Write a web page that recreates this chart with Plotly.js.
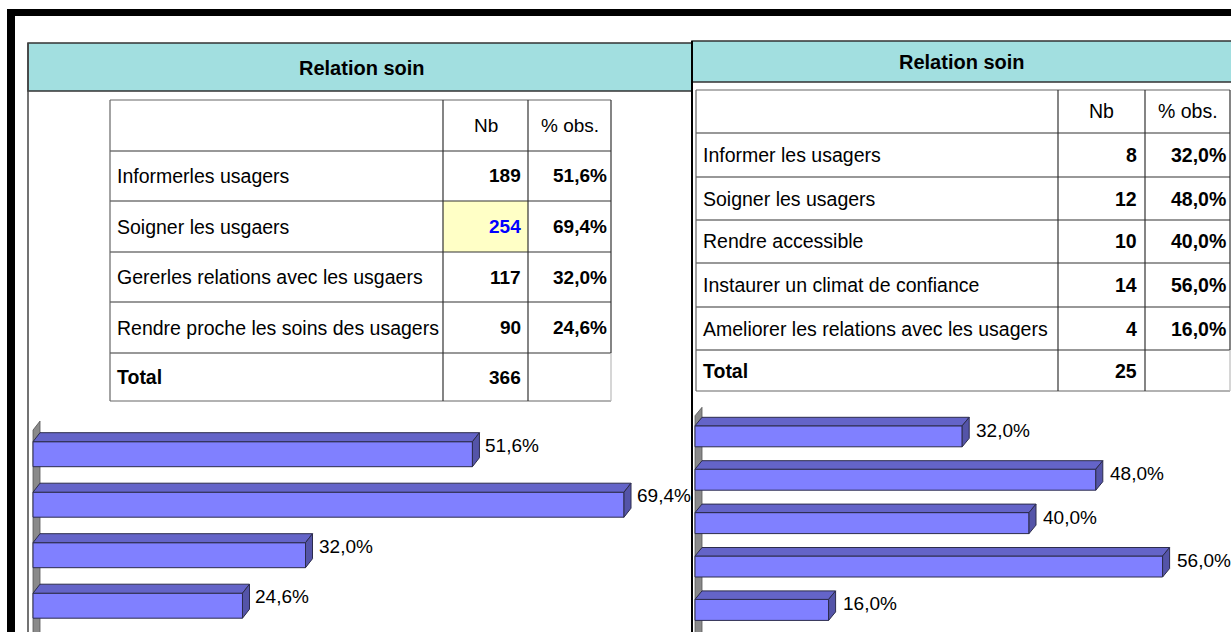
<!DOCTYPE html>
<html>
<head>
<meta charset="utf-8">
<script src="https://cdn.plot.ly/plotly-3.0.1.min.js"></script>
<style>html,body{margin:0;padding:0;background:#fff;}#chart{width:1231px;height:632px;}</style>
</head>
<body>
<div id="chart"></div>
<script>
// ---------- DATA ----------
const title = "Relation soin";
const colHeaders = ["Nb", "% obs."];
const totalLabel = "Total";

const leftCats = ["Informerles usagers", "Soigner les usgaers", "Gererles relations avec les usgaers", "Rendre proche les soins des usagers"];
const leftNb = [189, 254, 117, 90];
const leftPct = [51.6, 69.4, 32.0, 24.6];
const leftTotal = 366;

const rightCats = ["Informer les usagers", "Soigner les usagers", "Rendre accessible", "Instaurer un climat de confiance", "Ameliorer les relations avec les usagers"];
const rightNb = [8, 12, 10, 14, 4];
const rightPct = [32.0, 48.0, 40.0, 56.0, 16.0];
const rightTotal = 25;

// ---------- HELPERS ----------
const W = 1231, H = 632;
const P = x => x / W;
const Q = y => 1 - y / H;
const fmt = v => v.toFixed(1).replace('.', ',') + '%';

const ARIAL = "Liberation Sans, Arial, sans-serif";

const TEAL = "#A2DFE0";
const FRONT = "#8080FF", TOP = "#6464C8", SIDE = "#5454A8", EDGE = "#2c2c4c", WALL = "#8a8a8a";

const shapes = [];
const annotations = [];

function rect(x0, y0, x1, y1, fill, lc, lw) {
  shapes.push({type: 'rect', xref: 'paper', yref: 'paper', x0: P(x0), x1: P(x1), y0: Q(y1), y1: Q(y0),
    fillcolor: fill, line: {color: lc || 'rgba(0,0,0,0)', width: lw || 0}, layer: 'below'});
}
function line(x0, y0, x1, y1, c, w) {
  shapes.push({type: 'line', xref: 'paper', yref: 'paper', x0: P(x0), x1: P(x1), y0: Q(y0), y1: Q(y1),
    line: {color: c, width: w}, layer: 'above'});
}
function txt(x, y, t, anchor, size, bold, color) {
  annotations.push({xref: 'paper', yref: 'paper', x: P(x), y: Q(y), text: bold ? '<b>' + t + '</b>' : t,
    showarrow: false, xanchor: anchor, yanchor: 'middle',
    font: {family: ARIAL, size: size, color: color || '#000'}});
}

// ---------- FRAME ----------
rect(7, 9, W + 2, 16, '#000');
rect(7, 9, 15, H + 2, '#000');

// left panel
line(28, 43, 28, H + 2, '#444', 1.5);
rect(28, 43, 692, 91, TEAL, '#333', 1.5);
txt(362, 68, title, 'center', 20, true);
// right panel
rect(692, 41, W + 2, 82, TEAL, '#333', 1.5);
line(692, 41, 692, H + 2, '#000', 2);
txt(962, 62, title, 'center', 20, true);

// ---------- LEFT TABLE ----------
(function () {
  const xL = 110, xA = 443, xB = 528, xR = 611;
  const rows = [100, 151, 201, 252, 302, 353, 401];
  const iMax = leftNb.indexOf(Math.max(...leftNb));
  rect(xA, rows[iMax + 1], xB, rows[iMax + 2], '#FFFFC6');
  const c = '#333';
  line(xL, rows[0], xR, rows[0], '#666', 1.2);
  line(xL, rows[rows.length - 1], xR, rows[rows.length - 1], '#666', 1.2);
  for (let k = 1; k < rows.length - 1; k++) line(xL, rows[k], xR, rows[k], c, 1.2);
  line(xL, rows[0], xL, rows[rows.length - 1], '#666', 1.2);
  line(xA, rows[0], xA, rows[rows.length - 1], c, 1.2);
  line(xB, rows[0], xB, rows[rows.length - 1], c, 1.2);
  line(xR, rows[0], xR, rows[rows.length - 2], c, 1.2);
  line(xR, rows[rows.length - 2], xR, rows[rows.length - 1], '#bbb', 1.2);
  const mid = k => (rows[k] + rows[k + 1]) / 2;
  txt((xA + xB) / 2, mid(0), colHeaders[0], 'center', 19, false);
  txt((xB + xR) / 2, mid(0), colHeaders[1], 'center', 19, false);
  leftCats.forEach((cat, i) => {
    txt(xL + 5, mid(i + 1), cat, 'left', 19.5, false);
    txt(xB - 5, mid(i + 1), String(leftNb[i]), 'right', 19, true, i === iMax ? '#0000FF' : '#000');
    txt(xR - 2, mid(i + 1), fmt(leftPct[i]), 'right', 19, true);
  });
  const t = leftCats.length + 1;
  txt(xL + 5, mid(t), totalLabel, 'left', 19.5, true);
  txt(xB - 5, mid(t), String(leftTotal), 'right', 19, true);
})();

// ---------- RIGHT TABLE ----------
(function () {
  const xL = 696, xA = 1058, xB = 1145, xR = 1230;
  const rows = [90, 133, 177, 220, 263, 307, 350, 391];
  const c = '#333';
  line(xL, rows[0], xR, rows[0], '#666', 1.2);
  line(xL, rows[rows.length - 1], xR, rows[rows.length - 1], '#666', 1.2);
  for (let k = 1; k < rows.length - 1; k++) line(xL, rows[k], xR, rows[k], c, 1.2);
  line(xL, rows[0], xL, rows[rows.length - 1], '#666', 1.2);
  line(xA, rows[0], xA, rows[rows.length - 1], c, 1.2);
  line(xB, rows[0], xB, rows[rows.length - 1], c, 1.2);
  line(xR, rows[0], xR, rows[rows.length - 2], c, 1.2);
  line(xR, rows[rows.length - 2], xR, rows[rows.length - 1], '#bbb', 1.2);
  const mid = k => (rows[k] + rows[k + 1]) / 2;
  txt((xA + xB) / 2, mid(0), colHeaders[0], 'center', 19.5, false);
  txt((xB + xR) / 2, mid(0), colHeaders[1], 'center', 19.5, false);
  rightCats.forEach((cat, i) => {
    txt(xL + 5, mid(i + 1), cat, 'left', 19.5, false);
    txt(xB - 6, mid(i + 1), String(rightNb[i]), 'right', 19.5, true);
    txt(xR - 2, mid(i + 1), fmt(rightPct[i]), 'right', 19.5, true);
  });
  const t = rightCats.length + 1;
  txt(xL + 5, mid(t), totalLabel, 'left', 19.5, true);
  txt(xB - 6, mid(t), String(rightTotal), 'right', 19.5, true);
})();

// ---------- 3D BARS ----------
const traces = [];
function bars3d(vals, xa, ya, h, dx, dy, labelSize, lxs, lys) {
  const idx = vals.map((_, i) => i);
  const wt = -h / 2 - 0.23, wb = vals.length + 2;
  shapes.push({type: 'path', xref: xa, yref: ya, layer: 'below',
    path: `M 0,${wt} L ${dx},${wt - dy} L ${dx},${wb} L 0,${wb} Z`,
    fillcolor: WALL, line: {color: '#555', width: 0.8}});
  traces.push({type: 'bar', orientation: 'h', x: vals, y: idx, base: 0, width: h,
    xaxis: xa, yaxis: ya, marker: {color: FRONT, line: {color: EDGE, width: 1}}, hoverinfo: 'skip'});
  const tx = [], ty = [], sx = [], sy = [];
  vals.forEach((v, i) => {
    const t = i - h / 2, b = i + h / 2;
    tx.push(0, v, v + dx, dx, 0, null); ty.push(t, t, t - dy, t - dy, t, null);
    sx.push(v, v, v + dx, v + dx, v, null); sy.push(t, b, b - dy, t - dy, t, null);
    annotations.push({xref: xa, yref: ya, x: v, y: i, xanchor: 'left', yanchor: 'middle',
      xshift: lxs, yshift: lys, showarrow: false, text: fmt(v),
      font: {family: ARIAL, size: labelSize, color: '#000'}});
  });
  traces.push({type: 'scatter', mode: 'lines', x: tx, y: ty, fill: 'toself', fillcolor: TOP,
    line: {color: EDGE, width: 1}, xaxis: xa, yaxis: ya, hoverinfo: 'skip'});
  traces.push({type: 'scatter', mode: 'lines', x: sx, y: sy, fill: 'toself', fillcolor: SIDE,
    line: {color: EDGE, width: 1}, xaxis: xa, yaxis: ya, hoverinfo: 'skip'});
}

// left chart scale: 0% at x=33px, 8.516 px per %, rows 50.5px apart, first bar centre at 454px
const Lx0 = 33, Lk = 8.516, Ly0 = 454.2, Lu = 50.5;
// right chart scale: 0% at x=695px, 8.35 px per %, rows 43.4px apart, first centre at 436.3px
const Rx0 = 695, Rk = 8.35, Ry0 = 436.3, Ru = 43.4;

bars3d(leftPct, 'x', 'y', 25 / Lu, 7 / Lk, 9 / Lu, 19, 11, 9);
bars3d(rightPct, 'x2', 'y2', 21 / Ru, 7 / Rk, 8.5 / Ru, 19, 12, 6);

const ax = (dom, range, anchor) => ({domain: dom, range: range, autorange: false, showgrid: false, zeroline: false,
  showticklabels: false, showline: false, ticks: '', fixedrange: true, anchor: anchor});

const layout = {
  width: W, height: H, margin: {l: 0, r: 0, t: 0, b: 0, pad: 0},
  paper_bgcolor: '#fff', plot_bgcolor: 'rgba(0,0,0,0)', showlegend: false, barmode: 'overlay',
  xaxis: ax([0, 692 / W], [-Lx0 / Lk, (692 - Lx0) / Lk], 'y'),
  yaxis: ax([0, 1], [(H - Ly0) / Lu, -Ly0 / Lu], 'x'),
  xaxis2: ax([692 / W, 1], [(692 - Rx0) / Rk, (W - Rx0) / Rk], 'y2'),
  yaxis2: ax([0, 1], [(H - Ry0) / Ru, -Ry0 / Ru], 'x2'),
  shapes: shapes, annotations: annotations
};

Plotly.newPlot('chart', traces, layout, {displayModeBar: false, staticPlot: true});
</script>
</body>
</html>
